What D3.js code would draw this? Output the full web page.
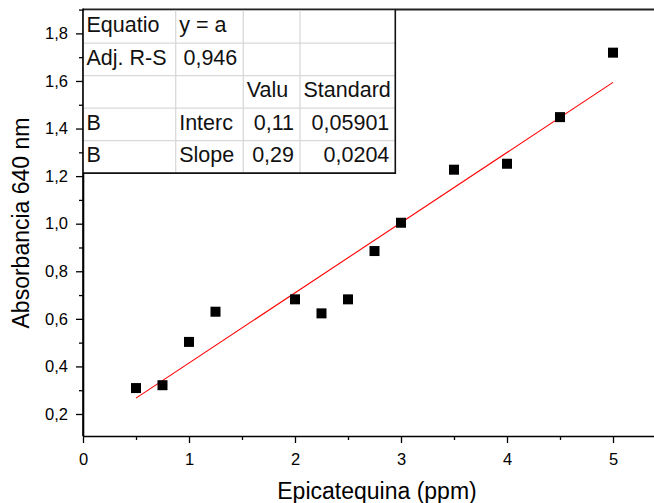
<!DOCTYPE html>
<html>
<head>
<meta charset="utf-8">
<script src="https://cdn.jsdelivr.net/npm/d3@7"></script>
<style>
  body { margin: 0; background: #fff; }
  svg { display: block; font-family: "Liberation Sans", Arial, sans-serif; }
</style>
</head>
<body>
<div id="chart"></div>
<script>
// data
const conc = [0.5, 0.75, 1, 1.25, 2, 2.25, 2.5, 2.75, 3, 3.5, 4, 4.5, 5];
const absorb = [0.309, 0.321, 0.503, 0.630, 0.682, 0.623, 0.682, 0.885, 1.004, 1.227, 1.252, 1.448, 1.719];
const xTicks = [0, 1, 2, 3, 4, 5];
const xMinor = [0.5, 1.5, 2.5, 3.5, 4.5];
const yTicks = [0.2, 0.4, 0.6, 0.8, 1.0, 1.2, 1.4, 1.6, 1.8];
const yMinor = [0.3, 0.5, 0.7, 0.9, 1.1, 1.3, 1.5, 1.7, 1.9];
const tableRows = [
  ["Equatio", "y = a", "", ""],
  ["Adj. R-S", "0,946", "", ""],
  ["", "", "Valu", "Standard"],
  ["B", "Interc", "0,11", "0,05901"],
  ["B", "Slope", "0,29", "0,0204"]
];

const W = 654, H = 503;
const svg = d3.select("#chart").append("svg")
  .attr("width", W).attr("height", H);

// 0 -> 83px, 5 -> 613px ; 0.2 -> 414px, 1.8 -> 33.3px
const x = d3.scaleLinear().domain([0, 5.5]).range([83, 666]);
const y = d3.scaleLinear().domain([0.1075, 1.9]).range([436, 9.6]);

const comma = f => d => d3.format(f)(d).replace(".", ",");

// minor ticks
svg.append("g").attr("transform", `translate(0,${y.range()[0]})`)
  .call(d3.axisBottom(x).tickValues(xMinor).tickSize(4).tickFormat(""))
  .call(g => g.select(".domain").remove());
svg.append("g").attr("transform", `translate(${x.range()[0]},0)`)
  .call(d3.axisLeft(y).tickValues(yMinor).tickSize(4).tickFormat(""))
  .call(g => g.select(".domain").remove());

// major axes
svg.append("g").attr("transform", `translate(0,${y.range()[0]})`)
  .call(d3.axisBottom(x).tickValues(xTicks).tickSize(7).tickSizeOuter(0)
    .tickPadding(10.5).tickFormat(d3.format("d")));
svg.append("g").attr("transform", `translate(${x.range()[0]},0)`)
  .call(d3.axisLeft(y).tickValues(yTicks).tickSize(7).tickSizeOuter(0)
    .tickPadding(8).tickFormat(comma(".1f")));

svg.selectAll(".tick line").attr("stroke", "#000").attr("stroke-width", 1.3);
svg.selectAll(".domain").attr("stroke", "#000").attr("stroke-width", 1.6);
svg.selectAll(".tick text").attr("font-size", 16.5).attr("fill", "#000")
  .attr("font-family", "'Liberation Sans', Arial, sans-serif");

// top frame
svg.append("line")
  .attr("x1", x.range()[0]).attr("x2", W)
  .attr("y1", y.range()[1]).attr("y2", y.range()[1])
  .attr("stroke", "#222").attr("stroke-width", 2);

// axis titles
svg.append("text")
  .attr("x", 377).attr("y", 499)
  .attr("text-anchor", "middle").attr("font-size", 23)
  .text("Epicatequina (ppm)");
svg.append("text")
  .attr("transform", "translate(29,223) rotate(-90)")
  .attr("text-anchor", "middle").attr("font-size", 23)
  .text("Absorbancia 640 nm");

// linear fit (least squares on the points)
const mx = d3.mean(conc), my = d3.mean(absorb);
const slope = d3.sum(conc, (c, i) => (c - mx) * (absorb[i] - my)) / d3.sum(conc, c => (c - mx) ** 2);
const icpt = my - slope * mx;
const xFit = d3.extent(conc);
svg.append("line")
  .attr("x1", x(xFit[0])).attr("y1", y(icpt + slope * xFit[0]))
  .attr("x2", x(xFit[1])).attr("y2", y(icpt + slope * xFit[1]))
  .attr("stroke", "#ff0000").attr("stroke-width", 1.1);

// points
const s = 10;
svg.append("g").selectAll("rect")
  .data(conc)
  .join("rect")
  .attr("x", (d) => x(d) - s / 2)
  .attr("y", (d, i) => y(absorb[i]) - s / 2)
  .attr("width", s).attr("height", s)
  .attr("fill", "#000");

// stats table, top-left
const colX = [83, 175.7, 243.3, 300, 395.3];
const rowH = 32.5, tTop = y.range()[1] + 1;
const tbl = svg.append("g");
tbl.append("rect")
  .attr("x", colX[0]).attr("y", tTop)
  .attr("width", colX[4] - colX[0]).attr("height", rowH * tableRows.length)
  .attr("fill", "#fff");
for (let i = 1; i < tableRows.length; i++) {
  tbl.append("line").attr("x1", colX[0]).attr("x2", colX[4])
    .attr("y1", tTop + i * rowH).attr("y2", tTop + i * rowH)
    .attr("stroke", "#d9d9d9").attr("stroke-width", 1.3);
}
for (let j = 1; j < colX.length - 1; j++) {
  tbl.append("line").attr("x1", colX[j]).attr("x2", colX[j])
    .attr("y1", tTop).attr("y2", tTop + rowH * tableRows.length)
    .attr("stroke", "#d9d9d9").attr("stroke-width", 1.3);
}
// right and bottom border
tbl.append("path")
  .attr("d", `M${colX[4]},${tTop - 1} V${tTop + rowH * tableRows.length} H${colX[0]}`)
  .attr("fill", "none").attr("stroke", "#111").attr("stroke-width", 1.6);

const isNum = t => /^[0-9,]+$/.test(t);
tableRows.forEach((row, i) => {
  row.forEach((cell, j) => {
    if (!cell) return;
    const num = isNum(cell);
    tbl.append("text")
      .attr("x", num ? colX[j + 1] - 6 : colX[j] + 3.5)
      .attr("y", tTop + i * rowH + 21.5)
      .attr("text-anchor", num ? "end" : "start")
      .attr("font-size", 21.5)
      .attr("fill", "#111")
      .text(cell);
  });
});

// redraw y axis line above table background
svg.append("line")
  .attr("x1", x.range()[0]).attr("x2", x.range()[0])
  .attr("y1", y.range()[0]).attr("y2", y.range()[1] - 1)
  .attr("stroke", "#000").attr("stroke-width", 1.6);
</script>
</body>
</html>
